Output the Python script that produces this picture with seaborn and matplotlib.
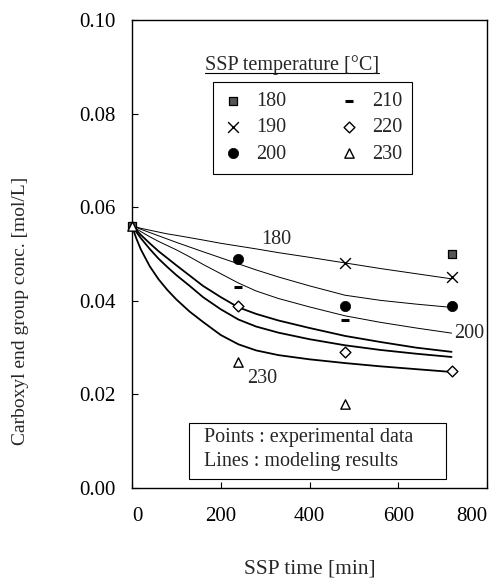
import numpy as np
import pandas as pd
import matplotlib
matplotlib.use("Agg")
import matplotlib.pyplot as plt
import seaborn as sns
from matplotlib.lines import Line2D
from matplotlib.patches import Rectangle

# ---------------- data ----------------
temps = ["180", "190", "200", "210", "220", "230"]

# model curves
t_model = [0, 10, 20, 40, 60, 80, 100, 130, 160, 200, 240, 280, 330, 400, 480, 560, 640, 720]
model_180 = [0.0560, 0.0558, 0.0555, 0.0551, 0.0547, 0.0543, 0.0540, 0.0535, 0.0530, 0.0523,
             0.0517, 0.0511, 0.0503, 0.0493, 0.0481, 0.0469, 0.0458, 0.0447]
model_190 = [0.0560, 0.0557, 0.0553, 0.0546, 0.0539, 0.0532, 0.0525, 0.0515, 0.0505, 0.0492,
             0.0479, 0.0466, 0.0451, 0.0432, 0.0412, 0.0401, 0.0393, 0.0386]
model_200 = [0.0560, 0.0554, 0.0548, 0.0537, 0.0527, 0.0518, 0.0509, 0.0494, 0.0478, 0.0458,
             0.0438, 0.0421, 0.0405, 0.0387, 0.0368, 0.0354, 0.0342, 0.0331]
model_210 = [0.0560, 0.0551, 0.0541, 0.0523, 0.0506, 0.0491, 0.0476, 0.0454, 0.0432, 0.0408,
             0.0386, 0.0372, 0.0358, 0.0342, 0.0325, 0.0312, 0.0300, 0.0291]
model_220 = [0.0560, 0.0547, 0.0534, 0.0511, 0.0490, 0.0472, 0.0455, 0.0432, 0.0408, 0.0382,
             0.0360, 0.0345, 0.0332, 0.0318, 0.0305, 0.0295, 0.0287, 0.0280]
model_230 = [0.0560, 0.0533, 0.0510, 0.0474, 0.0446, 0.0423, 0.0403, 0.0377, 0.0355, 0.0327,
             0.0307, 0.0294, 0.0284, 0.0275, 0.0267, 0.0260, 0.0254, 0.0248]

# experimental points
exp_t_180 = [0, 720]
exp_c_180 = [0.056, 0.050]
exp_t_190 = [480, 720]
exp_c_190 = [0.048, 0.045]
exp_t_200 = [240, 480, 720]
exp_c_200 = [0.049, 0.039, 0.039]
exp_t_210 = [240, 480]
exp_c_210 = [0.043, 0.036]
exp_t_220 = [240, 480, 720]
exp_c_220 = [0.039, 0.029, 0.025]
exp_t_230 = [0, 240, 480]
exp_c_230 = [0.056, 0.027, 0.018]

x_ticks = [0, 200, 400, 600, 800]
y_ticks = [0.00, 0.02, 0.04, 0.06, 0.08, 0.10]

models = [model_180, model_190, model_200, model_210, model_220, model_230]
exp_t = [exp_t_180, exp_t_190, exp_t_200, exp_t_210, exp_t_220, exp_t_230]
exp_c = [exp_c_180, exp_c_190, exp_c_200, exp_c_210, exp_c_220, exp_c_230]

# ---------------- style ----------------
sns.set_style("ticks")
plt.rcParams["font.family"] = ["Liberation Serif", "DejaVu Serif"]

fig = plt.figure(figsize=(4.96, 5.82), dpi=100)
ax = fig.add_axes([0.266, 0.1615, 0.716, 0.804])

line_widths = [0.7, 0.7, 0.7, 1.3, 1.3, 1.3]
marker_specs = [
    dict(marker="s", s=32, facecolor="#555555", edgecolor="black", linewidth=0.9),
    dict(marker="x", s=60, color="black", linewidth=1.0),
    dict(marker="o", s=55, facecolor="black", edgecolor="black", linewidth=0.5),
    dict(marker="_", s=30, color="black", linewidth=2.2),
    dict(marker="D", s=30, facecolor="white", edgecolor="black", linewidth=1.0),
    dict(marker="^", s=45, facecolor="white", edgecolor="black", linewidth=1.0),
]

for i, temp in enumerate(temps):
    df_m = pd.DataFrame({"t": t_model, "c": models[i]})
    sns.lineplot(data=df_m, x="t", y="c", ax=ax, color="black",
                 linewidth=line_widths[i], sort=False, estimator=None)

handles = []
for i, temp in enumerate(temps):
    df_e = pd.DataFrame({"t": exp_t[i], "c": exp_c[i]})
    sns.scatterplot(data=df_e, x="t", y="c", ax=ax, zorder=5, clip_on=False,
                    **marker_specs[i])
    handles.append(ax.collections[-1])

ax.set_xlim(0, 800)
ax.set_ylim(0, 0.10)
ax.set_xticks(x_ticks)
ax.set_yticks(y_ticks)
ax.set_xticklabels([str(v) for v in x_ticks])
ax.set_yticklabels([f"{v:.2f}" for v in y_ticks])
ax.tick_params(direction="in", length=4, width=0.8, labelsize=15, pad=12, colors="black")
ax.tick_params(axis="x", pad=14)
xt = ax.get_xticklabels()
xt[0].set_ha("left")
xt[-1].set_ha("right")
for sp in ax.spines.values():
    sp.set_visible(True)
    sp.set_color("black")
    sp.set_linewidth(1.0)

ax.set_xlabel("SSP time [min]", fontsize=15.5, labelpad=24)
ax.set_ylabel("Carboxyl end group conc. [mol/L]", fontsize=14)
ax.yaxis.set_label_coords(-0.29, 0.378)

# curve labels
ax.text(325, 0.0532, "180", fontsize=14.5, ha="center", va="center")
ax.text(726, 0.0331, "200", fontsize=14.5, ha="left", va="center")
ax.text(293, 0.0235, "230", fontsize=14.5, ha="center", va="center")

# legend
leg = ax.legend(handles=handles, labels=temps, ncol=2, loc="upper left",
                bbox_to_anchor=(0.228, 0.868), frameon=True, fancybox=False,
                framealpha=1, edgecolor="black", fontsize=14.5,
                handlelength=1.0, handletextpad=0.65, columnspacing=2.6,
                borderpad=0.5, labelspacing=0.36, borderaxespad=0)
leg.get_frame().set_linewidth(0.8)

title = ax.text(0.206, 0.893, "SSP temperature [°C]", transform=ax.transAxes,
                fontsize=14.5, ha="left", va="baseline")
fig.canvas.draw()
bb = title.get_window_extent()
inv = ax.transAxes.inverted()
(x0, y0), (x1, y1) = inv.transform([[bb.x0, bb.y0], [bb.x1, bb.y0]])
ax.add_line(Line2D([x0, x1], [0.886, 0.886], transform=ax.transAxes,
                   color="black", linewidth=0.8))

# note box
ax.add_patch(Rectangle((0.161, 0.019), 0.724, 0.120, transform=ax.transAxes,
                       facecolor="white", edgecolor="black", linewidth=0.8, zorder=6))
ax.text(0.203, 0.107, "Points : experimental data", transform=ax.transAxes,
        fontsize=14.5, ha="left", va="center", zorder=7)
ax.text(0.203, 0.056, "Lines : modeling results", transform=ax.transAxes,
        fontsize=14.5, ha="left", va="center", zorder=7)

fig.savefig("out.png", dpi=100)
